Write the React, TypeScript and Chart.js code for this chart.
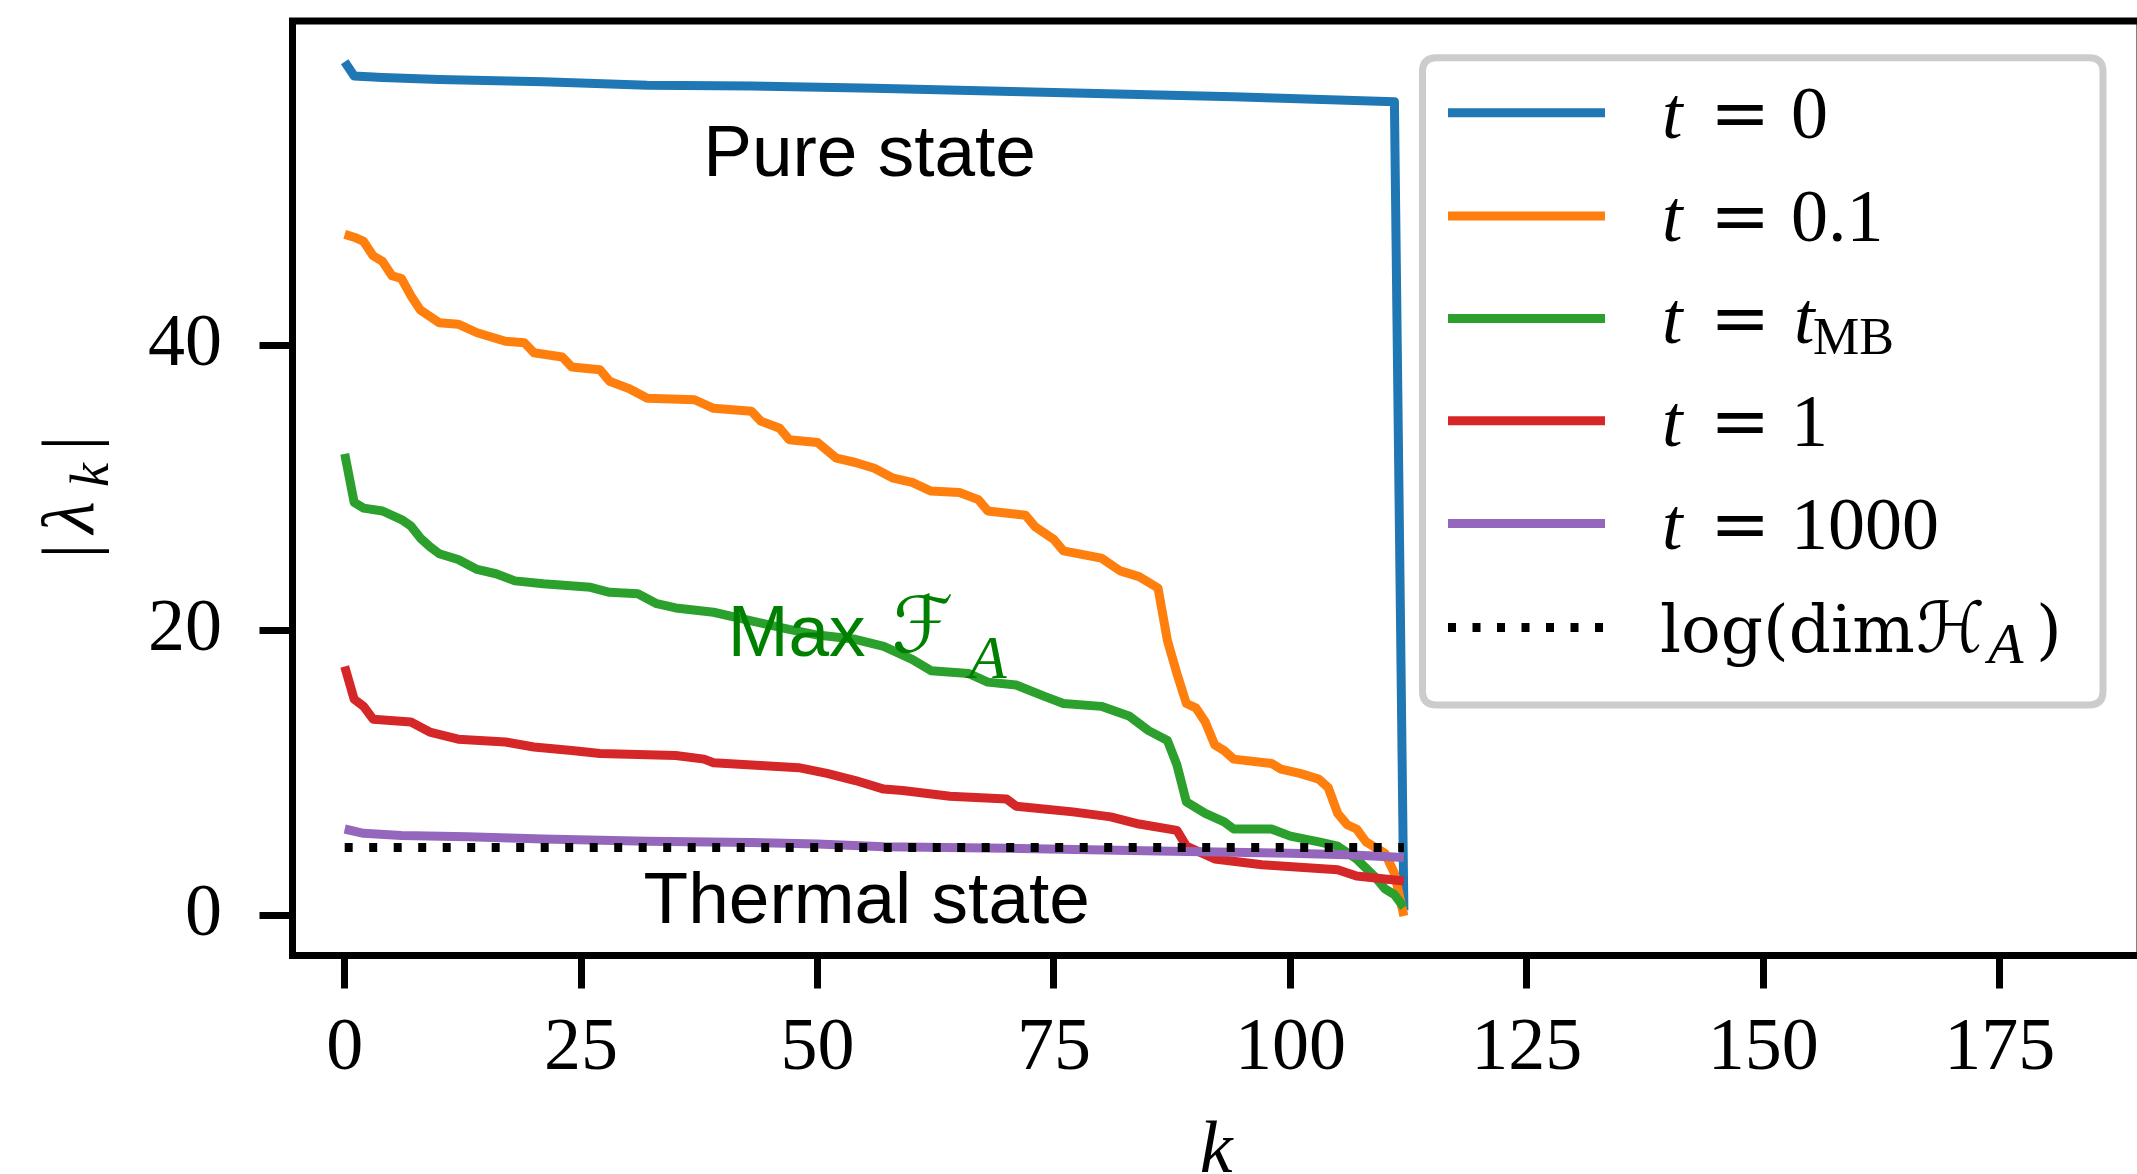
import { useEffect, useRef } from 'react';
import { Chart, registerables } from 'chart.js';

Chart.register(...registerables);

// ---------------- data ----------------
const kBlue = [0, 1, 4, 10, 21, 32, 43, 56, 75, 94, 111, 112];
const vBlue = [59.9, 58.9, 58.8, 58.65, 58.5, 58.25, 58.2, 58.05, 57.75, 57.45, 57.1, 0.4];

const kOrange = [0, 1, 2, 3, 4, 5, 6, 7, 8, 10, 12, 14, 17, 19, 20, 23, 24, 27, 28, 30, 32, 37, 39, 43, 44, 46, 47, 50, 52, 54, 56, 58, 60, 62, 65, 67, 68, 72, 73, 75, 76, 80, 82, 84, 86, 87, 88, 89, 90, 91, 92, 93, 94, 98, 99, 101, 103, 104, 105, 106, 107, 108, 109, 110, 111, 112];
const vOrange = [47.8, 47.6, 47.3, 46.3, 45.9, 44.9, 44.7, 43.5, 42.5, 41.6, 41.5, 40.9, 40.3, 40.2, 39.5, 39.2, 38.5, 38.3, 37.5, 37.0, 36.3, 36.2, 35.6, 35.4, 34.7, 34.2, 33.4, 33.2, 32.1, 31.8, 31.4, 30.7, 30.4, 29.8, 29.7, 29.2, 28.4, 28.1, 27.3, 26.4, 25.6, 25.1, 24.2, 23.8, 23.0, 19.3, 17.0, 14.9, 14.6, 13.6, 12.0, 11.6, 11.0, 10.7, 10.3, 10.0, 9.6, 9.0, 7.2, 6.4, 6.1, 5.2, 4.8, 4.4, 3.0, 0.0];

const kGreen = [0, 1, 2, 4, 6, 7, 8, 9, 10, 12, 14, 16, 18, 21, 26, 28, 31, 33, 35, 39, 43, 47, 50, 54, 57, 60, 62, 66, 68, 71, 74, 76, 80, 83, 85, 87, 88, 89, 91, 93, 94, 98, 100, 103, 105, 107, 109, 110, 111, 112];
const vGreen = [32.4, 29.0, 28.6, 28.4, 27.8, 27.35, 26.5, 25.9, 25.4, 25.0, 24.3, 24.0, 23.5, 23.3, 23.05, 22.7, 22.6, 21.9, 21.6, 21.3, 20.7, 20.1, 19.7, 19.4, 18.9, 18.0, 17.2, 17.0, 16.4, 16.2, 15.4, 14.9, 14.7, 14.0, 13.0, 12.3, 10.6, 8.0, 7.2, 6.6, 6.1, 6.1, 5.6, 5.2, 4.9, 4.0, 2.7, 1.9, 1.5, 0.6];

const kRed = [0, 1, 2, 3, 7, 9, 12, 17, 20, 24, 27, 35, 38, 39, 48, 51, 54, 57, 59, 64, 70, 71, 77, 81, 84, 88, 89, 92, 97, 105, 107, 112];
const vRed = [17.5, 15.2, 14.7, 13.8, 13.6, 12.9, 12.4, 12.2, 11.85, 11.6, 11.4, 11.25, 11.0, 10.75, 10.4, 10.0, 9.5, 8.9, 8.8, 8.4, 8.2, 7.7, 7.3, 6.95, 6.45, 6.0, 4.9, 4.0, 3.6, 3.25, 2.8, 2.45];

const kPurple = [0, 2, 6, 13, 21, 32, 43, 50, 57, 70, 86, 100, 106, 112];
const vPurple = [6.1, 5.8, 5.65, 5.55, 5.4, 5.25, 5.15, 5.05, 4.85, 4.75, 4.55, 4.4, 4.3, 4.1];

const kLogDim = [0, 112];
const vLogDim = [4.8, 4.8];

const xTicks = [0, 25, 50, 75, 100, 125, 150, 175];
const yTicks = [0, 20, 40];

const seriesLabels = ['t = 0', 't = 0.1', 't = t_MB', 't = 1', 't = 1000', 'log(dimℋ_A)'];

// annotation anchors (data coordinates)
const notePure = { text: 'Pure state', k: 55.5, v: 51.9 };
const noteThermal = { text: 'Thermal state', k: 55.2, v: -0.49 };
const noteMax = { text: 'Max', k: 40.5, v: 18.25 };

// ---------------- styles ----------------
const COLORS = ['#1f77b4', '#ff7f0e', '#2ca02c', '#d62728', '#9467bd', '#000000'];
const SERIF = '"Liberation Serif", "DejaVu Serif", serif';
const SANS = '"Liberation Sans", Arial, sans-serif';
const rm = (s: number) => `${s}px ${SERIF}`;
const it = (s: number) => `italic ${s}px ${SERIF}`;
const dv = (s: number) => `${s}px "DejaVu Serif", serif`;
const scriptFont = (s: number) => `italic ${s}px "DejaVu Serif", "DejaVu Sans", serif`;

const pts = (ks: number[], vs: number[]) => ks.map((k, i) => ({ x: k, y: vs[i] }));

type Seg = { t: string; dx: number; font: string; dy?: number };

const legendRows: Seg[][] = [
  [{ t: 't', dx: 2, font: it(74) }, { t: '=', dx: 50, font: dv(72) }, { t: '0', dx: 131, font: rm(74) }],
  [{ t: 't', dx: 2, font: it(74) }, { t: '=', dx: 50, font: dv(72) }, { t: '0.1', dx: 131, font: rm(74) }],
  [{ t: 't', dx: 2, font: it(74) }, { t: '=', dx: 50, font: dv(72) }, { t: 't', dx: 134, font: it(74) }, { t: 'MB', dx: 153, font: rm(52), dy: 11 }],
  [{ t: 't', dx: 2, font: it(74) }, { t: '=', dx: 50, font: dv(72) }, { t: '1', dx: 131, font: rm(74) }],
  [{ t: 't', dx: 2, font: it(74) }, { t: '=', dx: 50, font: dv(72) }, { t: '1000', dx: 131, font: rm(74) }],
  [{ t: 'log(dim', dx: 0, font: dv(66) }, { t: 'ℋ', dx: 256, font: scriptFont(70) }, { t: 'A', dx: 328, font: it(58), dy: 11 }, { t: ')', dx: 376, font: dv(66) }],
];

const zeroPad = (s: any) => {
  s.paddingTop = 0;
  s.paddingBottom = 0;
  s.paddingLeft = 0;
  s.paddingRight = 0;
};

const decorPlugin = {
  id: 'decor',
  afterDatasetsDraw(chart: any) {
    const ctx: CanvasRenderingContext2D = chart.ctx;
    const { left, right, top, bottom } = chart.chartArea;
    const xs = chart.scales.x;
    const ys = chart.scales.y;
    ctx.save();

    // annotations
    ctx.fillStyle = '#000';
    ctx.textBaseline = 'alphabetic';
    ctx.textAlign = 'center';
    ctx.font = `73px ${SANS}`;
    ctx.fillText(notePure.text, xs.getPixelForValue(notePure.k), ys.getPixelForValue(notePure.v));
    ctx.fillText(noteThermal.text, xs.getPixelForValue(noteThermal.k), ys.getPixelForValue(noteThermal.v));

    const mx = xs.getPixelForValue(noteMax.k);
    const my = ys.getPixelForValue(noteMax.v);
    ctx.fillStyle = '#008000';
    ctx.textAlign = 'left';
    ctx.font = `73px ${SANS}`;
    ctx.fillText(noteMax.text, mx, my);
    ctx.font = scriptFont(78);
    ctx.fillText('ℱ', mx + 164, my - 4);
    ctx.font = it(62);
    ctx.fillText('A', mx + 241, my + 22);

    // frame
    ctx.strokeStyle = '#000';
    ctx.lineWidth = 7;
    ctx.strokeRect(left, top, right - left, bottom - top);

    // legend box
    const bx = 1422.5, by = 57.7, bw = 680.5, bh = 647.3, r = 14;
    ctx.beginPath();
    ctx.moveTo(bx + r, by);
    ctx.lineTo(bx + bw - r, by);
    ctx.quadraticCurveTo(bx + bw, by, bx + bw, by + r);
    ctx.lineTo(bx + bw, by + bh - r);
    ctx.quadraticCurveTo(bx + bw, by + bh, bx + bw - r, by + bh);
    ctx.lineTo(bx + r, by + bh);
    ctx.quadraticCurveTo(bx, by + bh, bx, by + bh - r);
    ctx.lineTo(bx, by + r);
    ctx.quadraticCurveTo(bx, by, bx + r, by);
    ctx.closePath();
    ctx.fillStyle = 'rgba(255,255,255,0.85)';
    ctx.fill();
    ctx.strokeStyle = '#cccccc';
    ctx.lineWidth = 7;
    ctx.stroke();

    const rowY = [112.7, 216, 318.4, 420.8, 523.6, 627.4];
    const textX = 1660;
    chart.data.datasets.forEach((ds: any, i: number) => {
      const y = rowY[i];
      ctx.beginPath();
      ctx.strokeStyle = ds.borderColor;
      ctx.lineWidth = 9;
      ctx.setLineDash(ds.borderDash && ds.borderDash.length ? ds.borderDash : []);
      ctx.moveTo(1448, y);
      ctx.lineTo(1605, y);
      ctx.stroke();
      ctx.setLineDash([]);
      ctx.fillStyle = '#000';
      ctx.textAlign = 'left';
      for (const s of legendRows[i]) {
        ctx.font = s.font;
        ctx.fillText(s.t, textX + s.dx, y + 25 + (s.dy || 0));
      }
    });

    // x-axis title
    ctx.fillStyle = '#000';
    ctx.textAlign = 'center';
    ctx.font = it(74);
    ctx.fillText('k', (left + right) / 2, 1172);

    // y-axis title |λ_k|
    ctx.save();
    ctx.translate(93, 551);
    ctx.rotate(-Math.PI / 2);
    ctx.textAlign = 'center';
    ctx.font = rm(74);
    ctx.fillText('|', 0, 0);
    ctx.fillText('|', 108, 0);
    ctx.font = it(74);
    ctx.fillText('λ', 33.5, 0);
    ctx.font = it(54);
    ctx.fillText('k', 76, 15);
    ctx.restore();

    ctx.restore();
  },
};

export default function App() {
  const ref = useRef<HTMLCanvasElement | null>(null);

  useEffect(() => {
    if (!ref.current) return;
    const mk = (label: string, ks: number[], vs: number[], color: string, order: number, dash?: number[]) => ({
      label,
      data: pts(ks, vs),
      borderColor: color,
      backgroundColor: color,
      borderWidth: 9,
      borderDash: dash || [],
      borderJoinStyle: 'round' as const,
      pointRadius: 0,
      tension: 0,
      fill: false,
      order,
    });
    const chart = new Chart(ref.current, {
      type: 'line',
      data: {
        datasets: [
          mk(seriesLabels[0], kBlue, vBlue, COLORS[0], 5),
          mk(seriesLabels[1], kOrange, vOrange, COLORS[1], 4),
          mk(seriesLabels[2], kGreen, vGreen, COLORS[2], 3),
          mk(seriesLabels[3], kRed, vRed, COLORS[3], 2),
          mk(seriesLabels[4], kPurple, vPurple, COLORS[4], 1),
          mk(seriesLabels[5], kLogDim, vLogDim, COLORS[5], 0, [8, 16.5]),
        ],
      },
      options: {
        responsive: false,
        maintainAspectRatio: false,
        animation: false,
        devicePixelRatio: 1,
        events: [],
        layout: { padding: { left: 0, top: 21, right: 4, bottom: 0 } },
        plugins: {
          legend: { display: false },
          title: { display: false },
          tooltip: { enabled: false },
        },
        scales: {
          x: {
            type: 'linear',
            min: -5.52,
            max: 189.84,
            afterBuildTicks: (s: any) => {
              s.ticks = xTicks.map((v) => ({ value: v }));
            },
            afterFit: (s: any) => {
              s.height = 218.5;
              zeroPad(s);
            },
            grid: {
              display: true,
              drawOnChartArea: false,
              drawTicks: true,
              tickLength: 33,
              tickWidth: 7,
              tickColor: '#000',
              color: '#000',
            },
            border: { display: false },
            ticks: {
              color: '#000',
              font: { family: SERIF, size: 74, lineHeight: 1.2 },
              padding: 17,
              maxRotation: 0,
              autoSkip: false,
            },
          },
          y: {
            type: 'linear',
            min: -2.77,
            max: 62.76,
            afterBuildTicks: (s: any) => {
              s.ticks = yTicks.map((v) => ({ value: v }));
            },
            afterFit: (s: any) => {
              s.width = 292.5;
              zeroPad(s);
            },
            grid: {
              display: true,
              drawOnChartArea: false,
              drawTicks: true,
              tickLength: 33,
              tickWidth: 7,
              tickColor: '#000',
              color: '#000',
            },
            border: { display: false },
            ticks: {
              color: '#000',
              font: { family: SERIF, size: 74, lineHeight: 1.2 },
              padding: 37.5,
              autoSkip: false,
            },
          },
        },
      },
      plugins: [decorPlugin],
    } as any);
    return () => chart.destroy();
  }, []);

  return (
    <div style={{ position: 'absolute', left: 0, top: 0, width: 2137, height: 1174, overflow: 'hidden', background: '#fff' }}>
      <canvas ref={ref} width={2144} height={1174} style={{ display: 'block', width: 2144, height: 1174 }} />
    </div>
  );
}
